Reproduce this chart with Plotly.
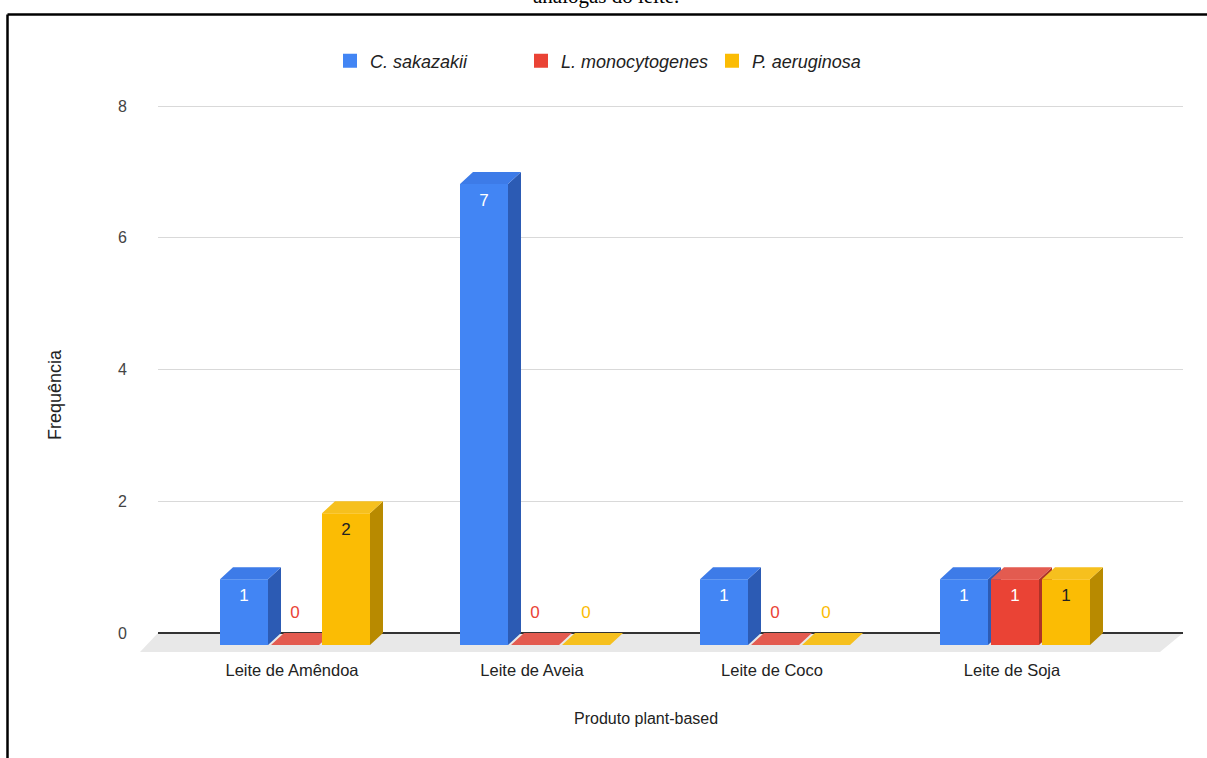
import plotly.graph_objects as go

# ---------------- data ----------------
categories = ["Leite de Amêndoa", "Leite de Aveia", "Leite de Coco", "Leite de Soja"]
series_names = ["C. sakazakii", "L. monocytogenes", "P. aeruginosa"]
c_sakazakii = [1, 7, 1, 1]
l_monocytogenes = [0, 0, 0, 1]
p_aeruginosa = [2, 0, 0, 1]
y_ticks = [0, 2, 4, 6, 8]

# ---------------- styling ----------------
FONT = "Arial, Liberation Sans, sans-serif"
front_col = ["#4285F4", "#EA4335", "#FBBC04"]
side_col = ["#2C5BB4", "#AE3227", "#B88A00"]
top_col = ["#3D7BE8", "#E35B50", "#F6C01E"]
text_col = ["#FFFFFF", "#FFFFFF", "#222222"]

W, H = 1207, 758
L, R, T, B = 158, 1183, 20, 655
PXX = 240.0      # px per category unit
PXY = 65.875     # px per y unit
x_rng = [-(292 - L) / PXX, -(292 - L) / PXX + (R - L) / PXX]
y_rng = [-(B - 633) / PXY, -(B - 633) / PXY + (B - T) / PXY]

BW = 48 / PXX
OFFS = [-48 / PXX, 3 / PXX, 54 / PXX]
DX = 13 / PXX
DY = 12 / PXY

fig = go.Figure()

all_series = [c_sakazakii, l_monocytogenes, p_aeruginosa]
for s, vals in enumerate(all_series):
    fx, fy, sx, sy, tx, ty = [], [], [], [], [], []
    for i, v in enumerate(vals):
        xl = i + OFFS[s] - BW / 2
        xr = i + OFFS[s] + BW / 2
        if v > 0:
            fx += [xl, xr, xr, xl, xl, None]
            fy += [-DY, -DY, v - DY, v - DY, -DY, None]
            sx += [xr, xr + DX, xr + DX, xr, xr, None]
            sy += [-DY, 0, v, v - DY, -DY, None]
        tx += [xl, xr, xr + DX, xl + DX, xl, None]
        ty += [v - DY, v - DY, v, v, v - DY, None]
    if fx:
        fig.add_trace(go.Scatter(x=fx, y=fy, fill="toself", mode="none",
                                 fillcolor=front_col[s], showlegend=False, hoverinfo="skip"))
        fig.add_trace(go.Scatter(x=sx, y=sy, fill="toself", mode="none",
                                 fillcolor=side_col[s], showlegend=False, hoverinfo="skip"))
    fig.add_trace(go.Scatter(x=tx, y=ty, fill="toself", mode="none",
                             fillcolor=top_col[s], showlegend=False, hoverinfo="skip"))

# value labels
for s, vals in enumerate(all_series):
    lx, ly, lc = [], [], []
    for i, v in enumerate(vals):
        lx.append(i + OFFS[s])
        if v > 0:
            ly.append(v - DY - 0.27)
            lc.append(text_col[s])
        else:
            ly.append(0.29)
            lc.append(front_col[s])
    fig.add_trace(go.Scatter(x=lx, y=ly, mode="text", text=[str(v) for v in vals],
                             textfont=dict(family=FONT, size=17, color=lc),
                             showlegend=False, hoverinfo="skip", cliponaxis=False))

# legend entries
for s, name in enumerate(series_names):
    fig.add_trace(go.Scatter(x=[None], y=[None], mode="markers", name=name,
                             marker=dict(symbol="square", size=14, color=front_col[s])))

# floor (paper x, data y)
fx0 = -18 / (R - L)
fx1 = 1 - 23 / (R - L)
fdy = 19 / PXY
shapes = [
    dict(type="path", xref="paper", yref="y", layer="below",
         path=f"M 0,0 L 1,0 L {fx1},{-fdy} L {fx0},{-fdy} Z",
         fillcolor="#E8E8E8", line=dict(width=0)),
]


def px_to_paper_x(px):
    return (px - L) / (R - L)


def px_to_paper_y(py):
    return (B - py) / (B - T)


# page border
shapes.append(dict(type="line", xref="paper", yref="paper",
                   x0=px_to_paper_x(7.5), x1=px_to_paper_x(1215),
                   y0=px_to_paper_y(14.5), y1=px_to_paper_y(14.5),
                   line=dict(color="#000000", width=2.5)))
shapes.append(dict(type="line", xref="paper", yref="paper",
                   x0=px_to_paper_x(7.5), x1=px_to_paper_x(7.5),
                   y0=px_to_paper_y(14.5), y1=px_to_paper_y(770),
                   line=dict(color="#000000", width=2.5)))

annotations = [
    dict(text="análogas do leite.", xref="paper", yref="paper",
         x=px_to_paper_x(606), y=px_to_paper_y(10), yanchor="bottom", xanchor="center",
         showarrow=False, font=dict(family="Liberation Serif, Times New Roman, serif",
                                    size=21, color="#000000")),
    dict(text="Produto plant-based", xref="paper", yref="paper",
         x=px_to_paper_x(646), y=px_to_paper_y(718), xanchor="center", yanchor="middle",
         showarrow=False, font=dict(family=FONT, size=16, color="#222222")),
    dict(text="Frequência", xref="paper", yref="paper", textangle=-90,
         x=px_to_paper_x(55), y=px_to_paper_y(395), xanchor="center", yanchor="middle",
         showarrow=False, font=dict(family=FONT, size=18, color="#222222")),
]

fig.update_layout(
    width=W, height=H,
    margin=dict(l=L, r=W - R, t=T, b=H - B, autoexpand=False),
    paper_bgcolor="white", plot_bgcolor="white",
    font=dict(family=FONT, color="#444444"),
    shapes=shapes, annotations=annotations,
    showlegend=True,
    legend=dict(orientation="h", xref="paper", yref="paper",
                x=px_to_paper_x(330), y=px_to_paper_y(61), xanchor="left", yanchor="middle",
                font=dict(family=FONT, size=18, color="#222222", style="italic"),
                entrywidth=146, bgcolor="rgba(0,0,0,0)", itemclick=False),
    xaxis=dict(range=x_rng, tickvals=list(range(len(categories))), ticktext=categories,
               showgrid=False, zeroline=False, showline=False, ticks="",
               tickfont=dict(family=FONT, size=16.5, color="#222222"),
               ticklabelstandoff=3, fixedrange=True),
    yaxis=dict(range=y_rng, tickvals=y_ticks, ticktext=[str(t) for t in y_ticks],
               showgrid=True, gridcolor="#D9D9D9", gridwidth=1,
               zeroline=True, zerolinecolor="#333333", zerolinewidth=1.5,
               showline=False, ticks="",
               tickfont=dict(family=FONT, size=16, color="#444444"),
               ticklabelstandoff=30, fixedrange=True),
)

fig.write_html("out.html")
